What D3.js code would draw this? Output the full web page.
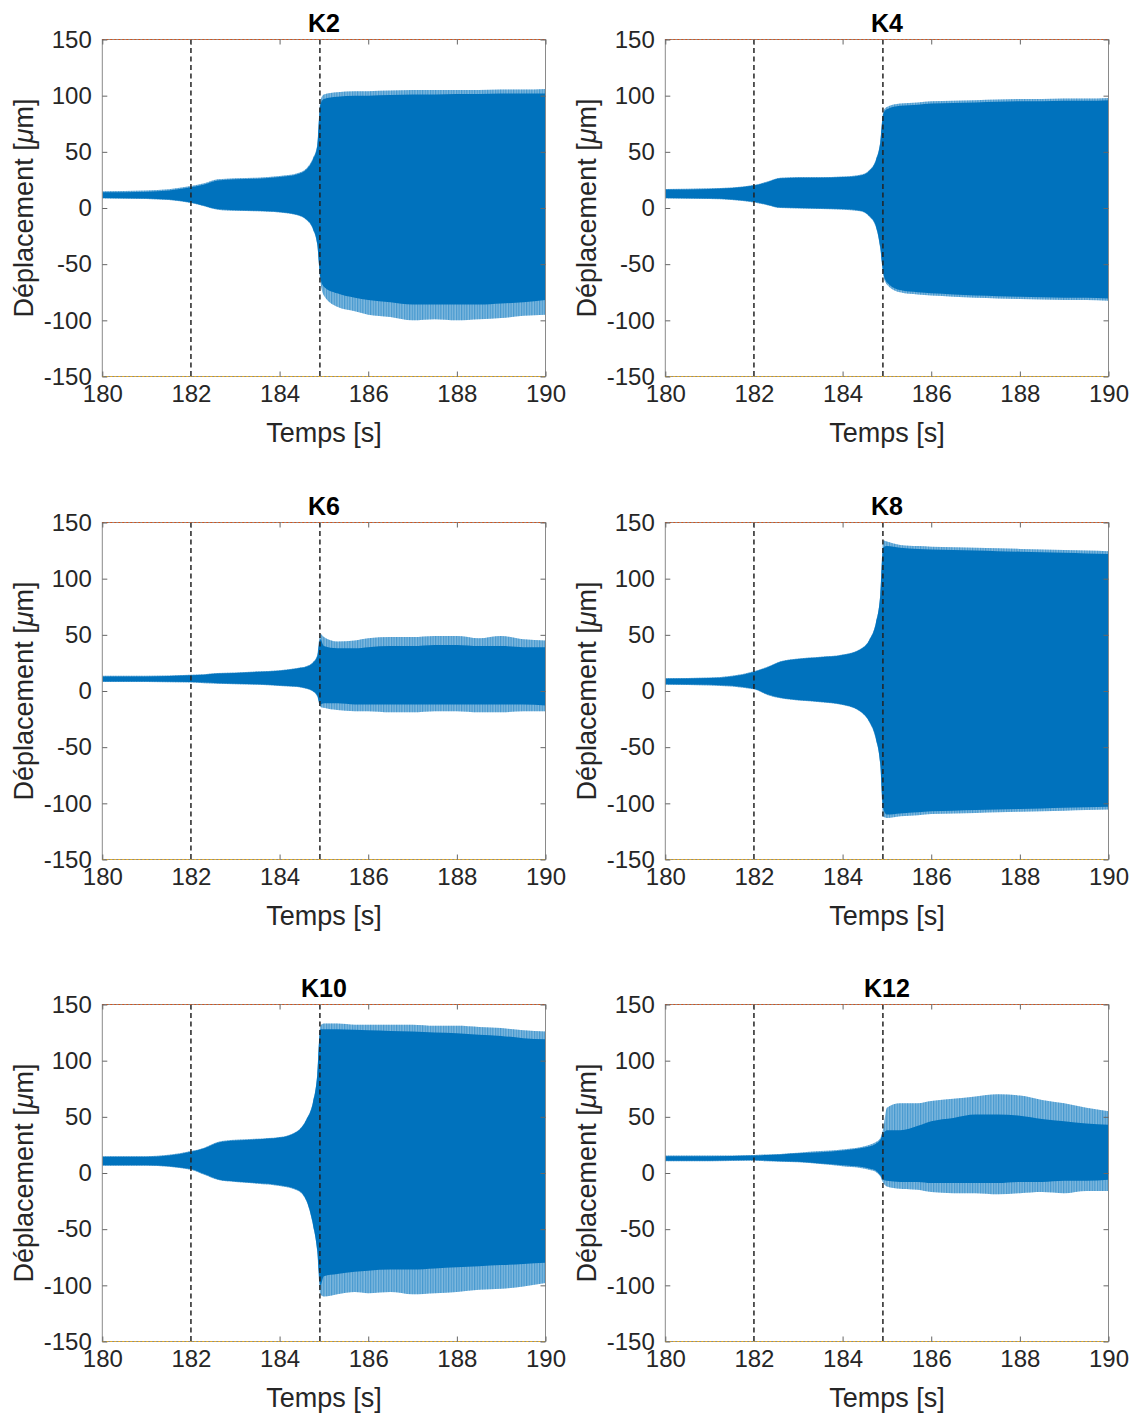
<!DOCTYPE html>
<html><head><meta charset="utf-8">
<script src="https://cdn.jsdelivr.net/npm/d3@7"></script>
<style>
html,body{margin:0;padding:0;background:#fff;}
svg{display:block;font-family:"Liberation Sans",Arial,Helvetica,sans-serif;}
</style></head>
<body>
<svg id="chart" width="1138" height="1416"></svg>
<script>
// ---------- data ----------
const titles = ["K2","K4","K6","K8","K10","K12"];
const xTicks = [180,182,184,186,188,190];
const yTicks = [-150,-100,-50,0,50,100,150];
const markerTimes = [182, 184.91];
const limitLines = [150, -150];
const times = [180,181,182,182.3,182.6,183,183.5,184,184.4,184.6,184.75,184.85,184.92,185.0,185.3,185.7,186,186.5,187,187.5,188,188.5,189,189.5,190];

// envelope of the dense oscillation: solid body (Up/Lo) and spike peaks (UpPk/LoPk), in µm
const k2Up   = [14,14.5,18.5,21,24.5,25.5,26,27.5,30,34,43,55,92,97,99,100,100,100.5,101,101,101.5,101.5,102,102,102];
const k2UpPk = [15,15.5,19.5,22,25.5,26.5,27,28.5,31,35,44,56,95,101,103,104,104,104.5,105,105,105,105,105.5,105.5,106];
const k2Lo   = [9,8.5,5,2,-1,-2,-2.5,-3.5,-6,-10,-18,-32,-62,-70,-76,-80,-82,-84,-86,-86,-86,-86,-85,-84,-82];
const k2LoPk = [8.5,8,4.5,1.5,-1.5,-2.5,-3,-4,-6.5,-10.5,-19,-33,-65,-78,-88,-92,-95,-97,-100,-99,-100,-99,-98,-96,-95];

const k4Up   = [16.5,17,20,23,26.5,27,27,27.5,29,33,42,58,84,88,91,92,93,93.5,94,94.5,95,95,95.5,95.5,96];
const k4UpPk = [17,17.5,20.5,23.5,27,27.5,27.5,28,29.5,33.5,43,59,86,90,93,94,95,95.5,96,96.5,97,97,97.5,97.5,98];
const k4Lo   = [9,8.5,5.5,3,0.5,0,-0.5,-1,-2.5,-7,-16,-35,-58,-66,-73,-75,-76,-77,-78,-78.5,-79,-79.5,-80,-80,-80.5];
const k4LoPk = [8.5,8,5,2.5,0,-0.5,-1,-1.5,-3,-7.5,-17,-36,-60,-68,-75,-77,-78,-79,-80,-80.5,-81,-81.5,-82,-82,-82.5];

const k6Up   = [13,13,14,14.5,15.5,16,17,18,20,21.5,25,31,46,40,38,38,39,40,40,41,41,40,40,39,39];
const k6UpPk = [13.5,13.5,14.5,15,16,16.5,17.5,18.5,20.5,22,25.5,32,51,48,44,45,47,48,48,49,49,47,49,46,45];
const k6Lo   = [8.5,8.5,8,7.5,7,6.5,6,5,4,2.5,0,-4,-12,-11,-11,-12,-12,-12,-12,-12,-12,-12,-12,-12,-13];
const k6LoPk = [8,8,7.5,7,6.5,6,5.5,4.5,3.5,2,-0.5,-5,-14,-15,-17,-18,-18,-19,-19,-18,-18,-19,-19,-18,-18];

const k8Up   = [11,11.5,17,21,26,28.5,30,32,37,45,60,85,128,129,127.5,126.5,126,125.5,125,124.5,124,123.5,123,122.5,122];
const k8UpPk = [11.5,12,17.5,21.5,26.5,29,30.5,32.5,37.5,45.5,61,86,134,133,130,129,128.5,128,127.5,127,126.5,126,125.5,125,124.5];
const k8Lo   = [6,5.5,2,-3,-6,-8,-9.5,-12,-18,-27,-42,-65,-105,-110,-109,-108,-107,-106.5,-106,-105.5,-105,-104.5,-104,-103.5,-103];
const k8LoPk = [5.5,5,1.5,-3.5,-6.5,-8.5,-10,-12.5,-18.5,-27.5,-43,-66,-112,-113,-111.5,-110.5,-109.5,-109,-108.5,-108,-107.5,-107,-106.5,-106,-105.5];

const k10Up   = [14.5,14.5,19,22,27,29,30,31.5,37,47,62,87,128,128,128,127.5,127,126.5,126,125,124.5,123,122,120,119];
const k10UpPk = [15,15,19.5,22.5,27.5,29.5,30.5,32,37.5,47.5,63,88,131,133,133,132,132,132,132,131,131,130,129,127,126];
const k10Lo   = [7,7,3.5,-1,-5.5,-7.5,-9,-11,-15,-24,-45,-69,-100,-92,-90,-88,-87,-86,-86,-85,-84,-83,-82,-81,-80];
const k10LoPk = [6.5,6.5,3,-1.5,-6,-8,-9.5,-11.5,-15.5,-24.5,-46,-70,-108,-110,-108,-106,-107,-106,-108,-107,-106,-104,-103,-101,-98];

const k12Up   = [15,15,15.5,16,16.5,17.5,18.5,20,22,23.5,26,29.5,35,38,38,42,46,49,52,52,51,48,46,44,43];
const k12UpPk = [15.5,15.5,16,16.5,17,18,19.5,21,23,25,27.5,31,40,58,62,62,64,66,68,70,69,65,62,58,55];
const k12Lo   = [11,11,11.5,11,10.5,10,8.5,7,5.5,4,2,-2,-6,-7,-8,-8,-9,-9,-9,-9,-8,-8,-7,-7,-6];
const k12LoPk = [10.5,10.5,11,10.5,10,9.5,8,6,4.5,3,1,-3,-9,-12,-14,-15,-17,-18,-18,-19,-18,-17,-18,-16,-16];

const upper = [k2Up,k4Up,k6Up,k8Up,k10Up,k12Up];
const upperPk = [k2UpPk,k4UpPk,k6UpPk,k8UpPk,k10UpPk,k12UpPk];
const lower = [k2Lo,k4Lo,k6Lo,k8Lo,k10Lo,k12Lo];
const lowerPk = [k2LoPk,k4LoPk,k6LoPk,k8LoPk,k10LoPk,k12LoPk];

// ---------- layout ----------
const colX = [102.3, 665.3];
const rowY = [39.5, 522.5, 1004.5];
const W = 443.2, H = 337;
const blue = "#0072BD";
const textCol = "#262626";

const svg = d3.select("#chart");
const defs = svg.append("defs");
const pat = defs.append("pattern").attr("id","spikes").attr("patternUnits","userSpaceOnUse")
  .attr("width",2.6).attr("height",20);
pat.append("rect").attr("x",0).attr("y",0).attr("width",1.2).attr("height",20).attr("fill",blue);

const fmt = d => String(d);

titles.forEach((title,i)=>{
  const x0 = colX[i%2], y0 = rowY[Math.floor(i/2)];
  const g = svg.append("g").attr("transform",`translate(${x0},${y0})`);
  const x = d3.scaleLinear().domain([180,190]).range([0,W]);
  const y = d3.scaleLinear().domain([-150,150]).range([H,0]);

  defs.append("clipPath").attr("id","clip"+i).append("rect").attr("width",W).attr("height",H);
  const plot = g.append("g").attr("clip-path",`url(#clip${i})`);

  const pts = times.map((t,k)=>({t, u:upper[i][k], up:upperPk[i][k], l:lower[i][k], lp:lowerPk[i][k]}));
  const areaPk = d3.area().curve(d3.curveMonotoneX).x(d=>x(d.t)).y0(d=>y(d.lp)).y1(d=>y(d.up));
  const area = d3.area().curve(d3.curveMonotoneX).x(d=>x(d.t)).y0(d=>y(d.l)).y1(d=>y(d.u));
  plot.append("path").datum(pts).attr("d",areaPk).attr("fill",blue).attr("fill-opacity",0.5);
  plot.append("path").datum(pts).attr("d",areaPk).attr("fill","url(#spikes)").attr("fill-opacity",0.45);
  plot.append("path").datum(pts).attr("d",area).attr("fill",blue);

  // marker dashed lines
  markerTimes.forEach(t=>{
    plot.append("line").attr("x1",x(t)).attr("x2",x(t)).attr("y1",0).attr("y2",H)
      .attr("stroke","#222").attr("stroke-width",1.5).attr("stroke-dasharray","5,3.5");
  });

  // box
  g.append("rect").attr("width",W).attr("height",H).attr("fill","none")
    .attr("stroke","#8a8a8a").attr("stroke-width",1);

  // limit lines at +/-150
  limitLines.forEach((v,k)=>{
    g.append("line").attr("x1",0).attr("x2",W).attr("y1",y(v)).attr("y2",y(v))
      .attr("stroke", k===0 ? "#D95319" : "#EDB120").attr("stroke-width",1)
      .attr("stroke-dasharray","2,2");
  });

  // axes
  const ax = g.append("g").attr("transform",`translate(0,${H})`)
    .call(d3.axisBottom(x).tickValues(xTicks).tickSize(-5).tickPadding(8).tickFormat(fmt));
  const axTop = g.append("g").call(d3.axisTop(x).tickValues(xTicks).tickSize(-5).tickFormat(""));
  const ay = g.append("g").call(d3.axisLeft(y).tickValues(yTicks).tickSize(-5).tickPadding(10.5).tickFormat(fmt));
  const ayR = g.append("g").attr("transform",`translate(${W},0)`).call(d3.axisRight(y).tickValues(yTicks).tickSize(-5).tickFormat(""));
  [ax,axTop,ay,ayR].forEach(a=>{
    a.select(".domain").remove();
    a.selectAll(".tick line").attr("stroke","#666").attr("stroke-width",1);
    a.selectAll("text").attr("fill",textCol).attr("font-size",24)
      .attr("font-family","Liberation Sans, Arial, sans-serif");
  });

  // title
  g.append("text").attr("x",W/2).attr("y",-8).attr("text-anchor","middle")
    .attr("font-size",25).attr("font-weight","bold").attr("fill","#000").text(title);

  // x label
  g.append("text").attr("x",W/2).attr("y",H+65).attr("text-anchor","middle")
    .attr("font-size",27).attr("fill",textCol).text("Temps [s]");

  // y label
  const yl = g.append("text").attr("transform",`translate(${-69},${H/2}) rotate(-90)`)
    .attr("text-anchor","middle").attr("font-size",27).attr("fill",textCol);
  yl.append("tspan").text("Déplacement [");
  yl.append("tspan").attr("font-style","italic").text("μ");
  yl.append("tspan").text("m]");
});
</script>
</body></html>
